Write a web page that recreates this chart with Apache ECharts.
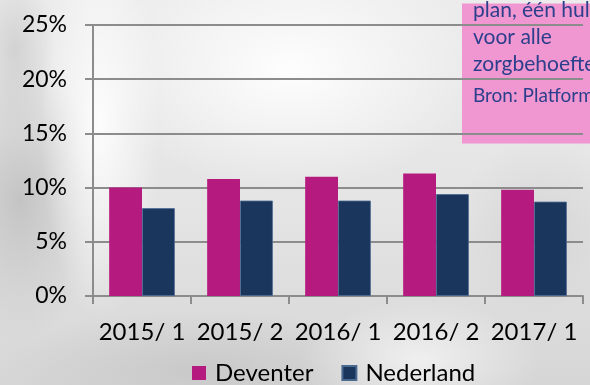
<!DOCTYPE html>
<html>
<head>
<meta charset="utf-8">
<script src="https://cdn.jsdelivr.net/npm/echarts@6/dist/echarts.min.js"></script>
<style>
  html, body { margin: 0; padding: 0; }
  body {
    width: 590px; height: 385px; overflow: hidden;
    background:
      radial-gradient(ellipse 190px 120px at 290px 70px, rgba(255,255,255,0.95), rgba(255,255,255,0) 100%),
      radial-gradient(ellipse 60px 200px at 100px 120px, rgba(255,255,255,0.9), rgba(255,255,255,0) 100%),
      radial-gradient(ellipse 120px 60px at 420px 360px, rgba(255,255,255,0.6), rgba(255,255,255,0) 100%),
      radial-gradient(ellipse 80px 140px at 20px 200px, rgba(185,185,185,0.75), rgba(185,185,185,0) 100%),
      radial-gradient(ellipse 40px 90px at 15px 50px, rgba(200,200,200,0.7), rgba(200,200,200,0) 100%),
      radial-gradient(ellipse 200px 60px at 200px 370px, rgba(195,195,195,0.7), rgba(195,195,195,0) 100%),
      radial-gradient(ellipse 90px 90px at 540px 230px, rgba(205,205,205,0.6), rgba(205,205,205,0) 100%),
      linear-gradient(180deg, #ececec 0%, #e4e4e4 55%, #d6d6d6 100%);
  }
  #chart { width: 590px; height: 385px; }
</style>
</head>
<body>
<div id="chart"></div>
<script>
// Periods on the category axis
const periods = ['2015/ 1', '2015/ 2', '2016/ 1', '2016/ 2', '2017/ 1'];
// Share per period (%)
const deventer = [10.0, 10.8, 11.0, 11.3, 9.8];
const nederland = [8.1, 8.8, 8.8, 9.4, 8.7];
// Value axis ticks
const yTicks = [0, 5, 10, 15, 20, 25];
// Note box lines
const noteLines = ['plan, één hulp', 'voor alle', 'zorgbehoeften'];
const noteSource = 'Bron: Platform';

const FONT = 'Lato';
const chart = echarts.init(document.getElementById('chart'), null, { renderer: 'canvas' });

chart.setOption({
  backgroundColor: 'transparent',
  animation: false,
  textStyle: { fontFamily: FONT },
  grid: { left: 93, right: 7, top: 25, bottom: 89, containLabel: false },
  legend: {
    top: 356,
    left: 187,
    itemWidth: 14,
    itemHeight: 14,
    itemGap: 28,
    icon: 'rect',
    textStyle: { fontFamily: FONT, fontSize: 24, color: '#000', padding: [0, 0, 0, 4] },
    data: ['Deventer', 'Nederland']
  },
  xAxis: {
    type: 'category',
    data: periods,
    axisLine: { lineStyle: { color: '#8c8c8c', width: 2 } },
    axisTick: { show: true, length: 8, lineStyle: { color: '#8c8c8c', width: 2 } },
    axisLabel: { color: '#000', fontSize: 24, fontFamily: FONT, margin: 24, interval: 0 }
  },
  yAxis: {
    type: 'value',
    min: yTicks[0],
    max: yTicks[yTicks.length - 1],
    interval: 5,
    axisLine: { show: true, lineStyle: { color: '#8c8c8c', width: 2 } },
    axisTick: { show: true, length: 8, lineStyle: { color: '#8c8c8c', width: 2 } },
    splitLine: { lineStyle: { color: '#8c8c8c', width: 2 } },
    axisLabel: {
      color: '#000', fontSize: 23, fontFamily: FONT, margin: 26,
      formatter: v => v + '%'
    }
  },
  series: [
    {
      name: 'Deventer',
      type: 'bar',
      data: deventer,
      barGap: '0%',
      barCategoryGap: '33%',
      itemStyle: { color: '#b51a7e' }
    },
    {
      name: 'Nederland',
      type: 'bar',
      data: nederland,
      itemStyle: { color: '#1b365d', borderColor: '#4a6a90', borderWidth: 0.8 }
    }
  ],
  graphic: [
    {
      type: 'group',
      left: 462,
      top: 0,
      z: 100,
      children: [
        { type: 'rect', shape: { x: 0, y: 0, width: 140, height: 140 }, style: { fill: '#f096d0' } },
        ...noteLines.map((t, i) => ({
          type: 'text',
          x: 11, y: 7 + i * 27,
          style: { text: t, fill: '#2b3f8c', font: '21px ' + FONT, textVerticalAlign: 'middle' }
        })),
        {
          type: 'text', x: 11, y: 92,
          style: { text: noteSource, fill: '#2b3f8c', font: '19px ' + FONT, textVerticalAlign: 'middle' }
        }
      ]
    }
  ]
});
</script>
</body>
</html>
